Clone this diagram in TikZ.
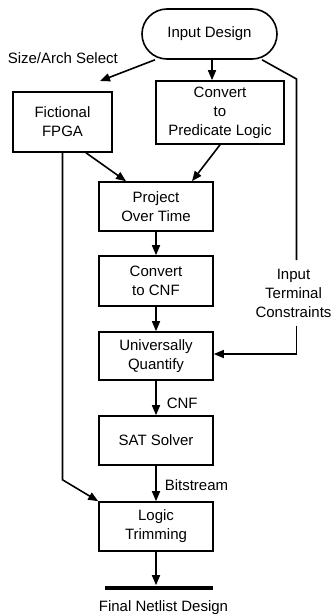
\documentclass[tikz,border=0pt]{standalone}
\usepackage{fontspec}
\setmainfont{Liberation Sans}
\usetikzlibrary{arrows.meta}
\begin{document}
\begin{tikzpicture}[x=1pt,y=-1pt,
  font=\fontsize{15}{19}\selectfont,
  every path/.style={line width=1.6pt},
  box/.style={draw, rectangle, align=center, inner sep=0pt},
  pill/.style={draw, rectangle, rounded corners=25pt, align=center, inner sep=0pt, minimum width=135pt, minimum height=50pt},
  lbl/.style={inner sep=0pt, align=center},
  arr/.style={-{Triangle[length=10pt,width=8pt]}},
  bar/.style={fill=black, inner sep=0pt, minimum width=108pt, minimum height=4pt}
]
\useasboundingbox (0,0) rectangle (332,616);
\node[pill] (in) at (209.5,34) {Input Design};
\node[box, minimum width=99pt, minimum height=60pt] (fpga) at (62.5,122) {Fictional\\FPGA};
\node[box, minimum width=128pt, minimum height=63pt] (pred) at (220,112.5) {Convert\\to\\Predicate Logic};
\node[box, minimum width=114pt, minimum height=49pt] (proj) at (156,206.5) {Project\\Over Time};
\node[box, minimum width=114pt, minimum height=50pt] (cnf) at (156,281) {Convert\\to CNF};
\node[box, minimum width=114pt, minimum height=48pt] (uq) at (156,356) {Universally\\Quantify};
\node[box, minimum width=114pt, minimum height=49pt] (sat) at (156,440.5) {SAT Solver};
\node[box, minimum width=114pt, minimum height=49pt] (trim) at (156,526.5) {Logic\\Trimming};
\node[bar] (out) at (159,588) {};
\node[lbl] (outl) at (163.5,608) {Final Netlist Design};
\node[lbl, anchor=west] (szl) at (7,58) {Size/Arch Select};
\node[lbl, minimum height=64pt] (itc) at (293.5,293) {Input\\Terminal\\Constraints};
\node[lbl, anchor=west] (cnfl) at (166,403) {CNF};
\node[lbl, anchor=west] (bsl) at (164,485) {Bitstream};
\coordinate (szend) at (100,81);
\coordinate (bend) at (296.5,79);

\draw[arr] ([xshift=-54.5pt]in.south) -- (szend);
\draw[arr] ([xshift=2.5pt]in.south) -- ([xshift=-8pt]pred.north);
\draw ([xshift=52.5pt]in.south) -- (bend) -- (bend |- itc.north);
\draw[arr] (bend |- itc.south) |- ([yshift=2pt]uq.east);
\draw[arr] ([xshift=23.5pt]fpga.south) -- ([xshift=-30pt]proj.north);
\draw[arr] (pred.south) -- ([xshift=36pt]proj.north);
\draw[arr] (fpga.south) -- ++(0,327) -- (trim.north west);
\draw[arr] (proj) -- (cnf);
\draw[arr] (cnf) -- (uq);
\draw[arr] (uq) -- (sat);
\draw[arr] (sat) -- (trim);
\draw[arr] (trim.south) -- (trim.south |- out.north);
\end{tikzpicture}
\end{document}
